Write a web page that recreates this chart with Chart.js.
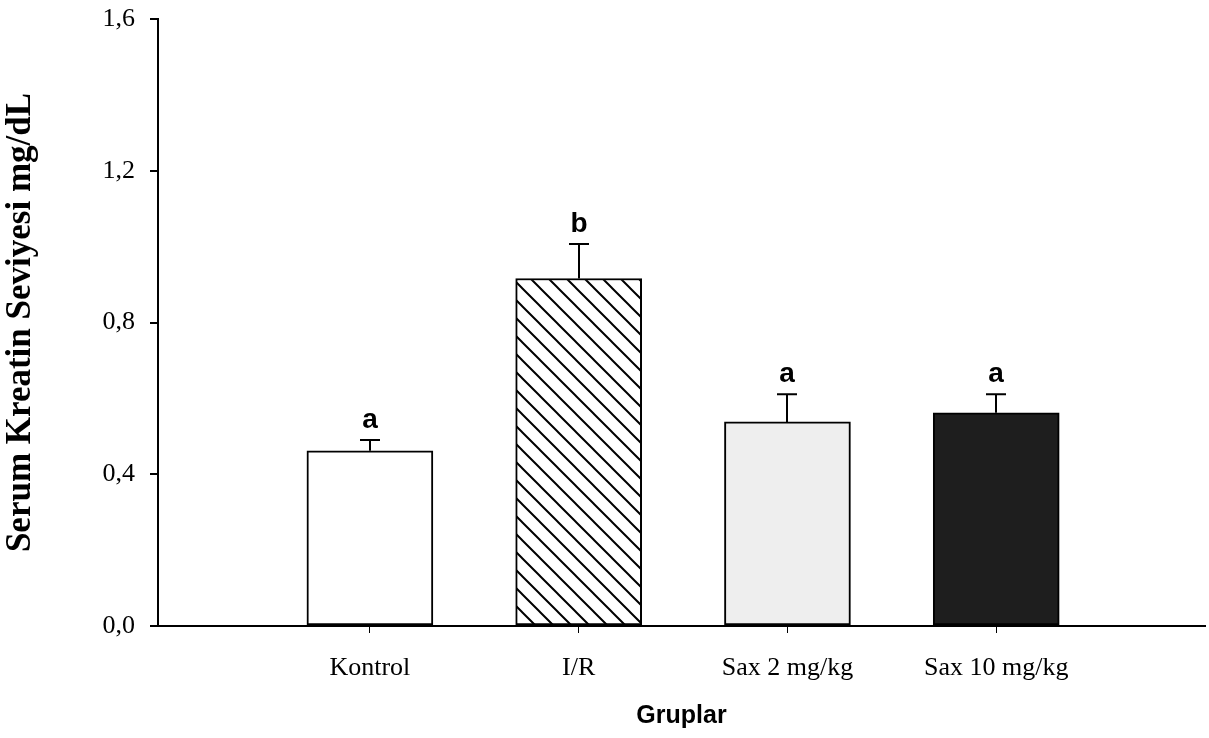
<!DOCTYPE html>
<html>
<head>
<meta charset="utf-8">
<script src="https://cdn.jsdelivr.net/npm/chart.js@4.4.1/dist/chart.umd.min.js"></script>
<style>
  html, body { margin: 0; padding: 0; background: #fff; }
  #wrap { width: 1209px; height: 738px; }
</style>
</head>
<body>
<div id="wrap"><canvas id="kreatinChart"></canvas></div>
<script>
// groups, means and SEM
var groups = ['Kontrol', 'I/R', 'Sax 2 mg/kg', 'Sax 10 mg/kg'];
var groupPos = [1, 2, 3, 4];
var means = [0.462, 0.916, 0.538, 0.562];
var sems = [0.028, 0.091, 0.073, 0.049];
var letters = ['a', 'b', 'a', 'a'];
var yTicks = [0, 0.4, 0.8, 1.2, 1.6];

// diagonal hatch for the I/R bar
function makeHatch() {
    var s = 18;
    var c = document.createElement('canvas');
    c.width = s; c.height = s;
    var g = c.getContext('2d');
    g.fillStyle = '#fff';
    g.fillRect(0, 0, s, s);
    g.strokeStyle = '#000';
    g.lineWidth = 2;
    g.beginPath();
    for (var k = -1; k <= 1; k++) {
        g.moveTo(-s, -s + k * s);
        g.lineTo(2 * s, 2 * s + k * s);
    }
    g.stroke();
    return g.createPattern(c, 'repeat');
}

var fills = ['#ffffff', makeHatch(), '#eeeeee', '#1e1e1e'];

var errorBars = {
    id: 'errorBars',
    afterDatasetsDraw: function (chart) {
        var ctx = chart.ctx;
        var yScale = chart.scales.y;
        var meta = chart.getDatasetMeta(0);
        ctx.save();
        ctx.strokeStyle = '#000';
        ctx.lineWidth = 2;
        meta.data.forEach(function (bar, i) {
            var x = Math.round(bar.x);
            var yTop = yScale.getPixelForValue(means[i]);
            var yErr = yScale.getPixelForValue(means[i] + sems[i]);
            ctx.beginPath();
            ctx.moveTo(x, yTop);
            ctx.lineTo(x, yErr);
            ctx.moveTo(x - 10, yErr);
            ctx.lineTo(x + 10, yErr);
            ctx.stroke();
            ctx.fillStyle = '#000';
            ctx.font = 'bold 28px "Liberation Sans", Arial, sans-serif';
            ctx.textAlign = 'center';
            ctx.textBaseline = 'alphabetic';
            ctx.fillText(letters[i], x, yErr - 12);
        });
        ctx.restore();
    }
};

var ctx = document.getElementById('kreatinChart').getContext('2d');
var kreatinChart = new Chart(ctx, {
    type: 'bar',
    data: {
        datasets: [{
            data: groupPos.map(function (p, i) { return { x: p, y: means[i] }; }),
            backgroundColor: fills,
            borderColor: '#000',
            borderWidth: 2,
            borderSkipped: false,
            barThickness: 126
        }]
    },
    options: {
        responsive: true,
        maintainAspectRatio: false,
        animation: false,
        layout: { padding: { top: 19, right: 4, left: 0, bottom: 0 } },
        plugins: {
            legend: { display: false },
            tooltip: { enabled: false }
        },
        scales: {
            x: {
                type: 'linear',
                min: -0.015,
                max: 5,
                offset: false,
                afterBuildTicks: function (scale) {
                    scale.ticks = groupPos.map(function (v) { return { value: v }; });
                },
                afterFit: function (scale) {
                    scale.height = 112;
                    scale.paddingLeft = 0;
                    scale.paddingRight = 0;
                },
                grid: {
                    offset: false,
                    drawOnChartArea: false,
                    drawTicks: true,
                    tickLength: 7,
                    tickColor: '#000',
                    lineWidth: 1
                },
                border: { color: '#000', width: 2 },
                ticks: {
                    autoSkip: false,
                    maxRotation: 0,
                    padding: 20,
                    color: '#000',
                    font: { family: '"Liberation Serif", "Times New Roman", serif', size: 26 },
                    callback: function (value) {
                        var i = groupPos.indexOf(value);
                        return i >= 0 ? groups[i] : '';
                    }
                },
                title: {
                    display: true,
                    text: 'Gruplar',
                    color: '#000',
                    padding: { top: 0, bottom: 7 },
                    font: { family: '"Liberation Sans", Arial, sans-serif', size: 25, weight: 'bold' }
                }
            },
            y: {
                min: 0,
                max: 1.6,
                afterBuildTicks: function (scale) {
                    scale.ticks = yTicks.map(function (v) { return { value: v }; });
                },
                afterFit: function (scale) {
                    scale.width = 158;
                    scale.paddingTop = 0;
                    scale.paddingBottom = 0;
                },
                grid: {
                    drawOnChartArea: false,
                    drawTicks: true,
                    tickLength: 8,
                    tickColor: '#000',
                    lineWidth: 2
                },
                border: { color: '#000', width: 2 },
                ticks: {
                    padding: 15,
                    color: '#000',
                    font: { family: '"Liberation Serif", "Times New Roman", serif', size: 26 },
                    callback: function (value) {
                        return value.toFixed(1).replace('.', ',');
                    }
                },
                title: {
                    display: true,
                    text: 'Serum Kreatin Seviyesi mg/dL',
                    color: '#000',
                    padding: { top: 0, bottom: 0 },
                    font: { family: '"Liberation Serif", "Times New Roman", serif', size: 35, weight: 'bold' }
                }
            }
        }
    },
    plugins: [errorBars]
});
</script>
</body>
</html>
